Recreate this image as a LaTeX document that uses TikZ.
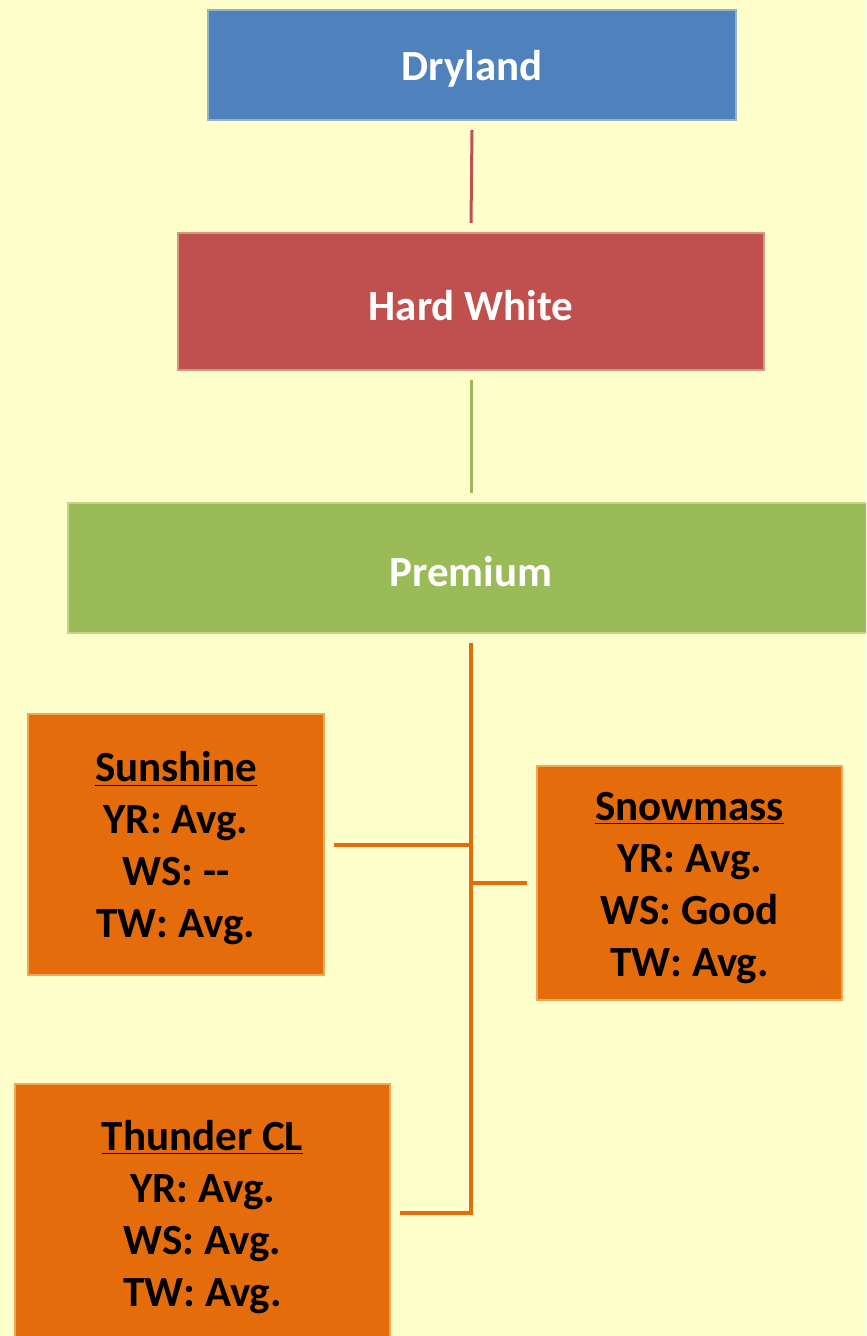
\documentclass[tikz,border=0pt]{standalone}
\usepackage{fontspec}
\setmainfont{Carlito}
\definecolor{bgyellow}{HTML}{FFFFCC}
\definecolor{dryblue}{HTML}{4F81BD}
\definecolor{hwred}{HTML}{C0504D}
\definecolor{premgreen}{HTML}{9BBB59}
\definecolor{varorange}{HTML}{E46C0A}
\newcommand{\padtop}{\rule{0pt}{19pt}}
\tikzset{
        box/.style={rectangle, inner sep=0pt, outer sep=5pt, align=center, line width=1.2pt,
          font=\bfseries\fontsize{21.5}{26}\selectfont},
        bluebox/.style={box, fill=dryblue, draw=dryblue!60!bgyellow, text=white},
        redbox/.style={box, fill=hwred, draw=hwred!60!bgyellow, text=white},
        greenbox/.style={box, fill=premgreen, draw=premgreen!60!bgyellow, text=white},
        orangebox/.style={box, fill=varorange, draw=varorange!60!bgyellow, text=black},
        redlink/.style={draw=hwred, line width=1.5pt},
        greenlink/.style={draw=premgreen, line width=1.5pt},
        orangelink/.style={draw=varorange, line width=2pt}
          }

\begin{document}
\begin{tikzpicture}[x=0.5pt, y=-0.5pt]
            \useasboundingbox (0,0) rectangle (866,1336);
            \clip (0,0) rectangle (866,1336);
            \fill[bgyellow] (0,0) rectangle (866,1336);
            % class, market and quality levels
            \node[bluebox, minimum width=264pt, minimum height=55pt] (dry) at (472,65) {\padtop Dryland};
            \node[redbox, minimum width=293pt, minimum height=68.5pt] (hw) at (471,301.5) {\padtop Hard White};
            \node[greenbox, minimum width=403pt, minimum height=65pt] (prem) at (471,568) {\padtop Premium};
            % varieties
            \node[orangebox, minimum width=148pt, minimum height=130.5pt] (sun) at (176,844.5)
              {\padtop\underline{Sunshine}\\YR: Avg.\\WS: -{}-\\TW: Avg.};
            \node[orangebox, minimum width=152.5pt, minimum height=117pt] (snow) at (689.5,883)
              {\padtop\underline{Snowmass}\\YR: Avg.\\WS: Good\\TW: Avg.};
            \node[orangebox, minimum width=187.5pt, minimum height=129pt] (thun) at (202.5,1213)
              {\padtop\underline{Thunder CL}\\YR: Avg.\\WS: Avg.\\TW: Avg.};
            % connectors
            \draw[redlink] (dry.south) -- (hw.north);
            \draw[greenlink] (hw.south) -- (prem.north);
            \draw[orangelink] (prem.south) -- (prem.south |- thun.east) -- (thun.east);
            \draw[orangelink] (sun.east) -- (sun.east -| prem.south);
            \draw[orangelink] (snow.west) -- (snow.west -| prem.south);
          \end{tikzpicture}
\end{document}
